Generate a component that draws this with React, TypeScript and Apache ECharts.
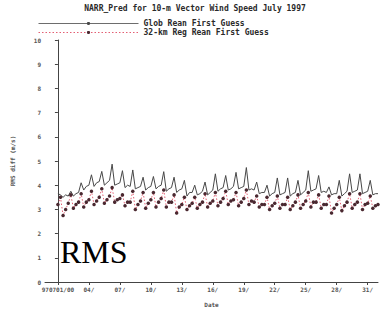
import React, { useEffect, useRef } from "react";
import * as echarts from "echarts";

const TITLE = "NARR_Pred for 10-m Vector Wind Speed July 1997";
const SERIES_NAMES = ["Glob Rean First Guess", "32-km Reg Rean First Guess"];
const X_TICK_DAYS = [0, 3, 6, 9, 12, 15, 18, 21, 24, 27, 30];
const X_TICK_LABELS = ["970701/00", "04/", "07/", "10/", "13/", "16/", "19/", "22/", "25/", "28/", "31/"];
const STEP_DAYS = 0.25; // 6-hourly

// Glob Rean First Guess, 6-hourly from 970701/00
const GLOB = [
  3.65, 3.6, 3.5, 3.6,
  3.55, 3.75, 3.55, 3.65,
  3.7, 4.1, 3.8, 3.95,
  4.0, 4.43, 3.95, 4.1,
  4.15, 4.57, 4.0, 4.1,
  4.2, 4.87, 4.0, 4.05,
  4.1, 4.6, 3.9, 4.0,
  3.95, 4.63, 3.85, 3.9,
  3.95, 4.33, 3.8, 3.9,
  3.95, 4.36, 3.85, 3.95,
  4.0, 4.56, 3.75, 3.85,
  3.9, 4.33, 3.7, 3.8,
  3.85, 4.2, 3.55, 3.7,
  3.7, 4.0, 3.6, 3.65,
  3.75, 4.13, 3.6, 3.7,
  3.8, 4.47, 3.75, 3.85,
  3.9, 4.4, 3.8, 3.85,
  3.95, 4.53, 3.85, 3.9,
  3.95, 4.73, 3.8, 3.85,
  3.8, 4.13, 3.65, 3.7,
  3.7, 4.0, 3.55, 3.65,
  3.7, 4.3, 3.6, 3.65,
  3.7, 4.3, 3.55, 3.65,
  3.7, 4.2, 3.6, 3.7,
  3.8, 4.6, 3.75, 3.8,
  3.85, 4.4, 3.7, 3.75,
  3.7, 3.93, 3.6, 3.65,
  3.65, 4.2, 3.55, 3.65,
  3.75, 4.47, 3.7, 3.75,
  3.8, 4.47, 3.65, 3.7,
  3.75, 4.2, 3.6, 3.65,
  3.65,
];

// 32-km Reg Rean First Guess
const REG = [
  3.2, 3.5, 2.75, 3.0,
  3.25, 3.6, 3.05, 3.2,
  3.3, 3.65, 3.1, 3.3,
  3.4, 3.75, 3.2, 3.35,
  3.5, 3.85, 3.25, 3.4,
  3.55, 3.9, 3.3, 3.4,
  3.45, 3.6, 3.15, 3.3,
  3.3, 3.75, 3.0, 3.2,
  3.35, 3.7, 3.05, 3.25,
  3.4, 3.7, 3.1, 3.3,
  3.45, 3.8, 3.1, 3.3,
  3.3, 3.6, 2.85, 3.1,
  3.2, 3.5, 3.0, 3.15,
  3.25, 3.5, 3.05, 3.2,
  3.3, 3.65, 3.1, 3.25,
  3.35, 3.7, 3.15, 3.3,
  3.45, 3.75, 3.2, 3.35,
  3.4, 3.7, 3.15, 3.3,
  3.45, 3.8, 3.2, 3.35,
  3.3, 3.55, 3.1, 3.2,
  3.2, 3.5, 3.0, 3.15,
  3.25, 3.55, 3.05, 3.2,
  3.2, 3.5, 3.0, 3.15,
  3.3, 3.6, 3.05, 3.2,
  3.35, 3.7, 3.1, 3.3,
  3.3, 3.6, 3.05, 3.2,
  3.2, 3.55, 2.85, 3.05,
  3.2, 3.5, 2.95, 3.15,
  3.3, 3.65, 3.05, 3.2,
  3.3, 3.65, 3.0, 3.2,
  3.25, 3.55, 3.05, 3.15,
  3.2,
];

const MONO = "'DejaVu Sans Mono', monospace";
const INK = "#2a2a2a";
const LABEL = "#555555";
const GLOB_COLOR = "#484848";
const REG_LINE = "#e35f73";
const REG_MARK = "#4a2830";
const DOTS = [1.5, 2];

export default function App() {
  const ref = useRef<HTMLDivElement>(null);
  useEffect(() => {
    document.body.style.margin = "0";
    const chart = echarts.init(ref.current!, null, { renderer: "svg" });
    const toPairs = (arr: number[]) => arr.map((v, i) => [i * STEP_DAYS, v]);
    chart.setOption({
      animation: false,
      backgroundColor: "#ffffff",
      title: {
        text: TITLE,
        left: 195,
        textAlign: "center",
        top: 4,
        padding: 0,
        textStyle: { fontFamily: MONO, fontSize: 8, fontWeight: "bold", color: INK },
      },
      legend: {
        orient: "vertical",
        left: 38,
        top: 19,
        padding: 0,
        itemGap: 0,
        itemWidth: 100,
        itemHeight: 4,
        data: [
          { name: SERIES_NAMES[0], lineStyle: { width: 0.8, type: "solid", color: GLOB_COLOR } },
          { name: SERIES_NAMES[1], lineStyle: { width: 1, type: DOTS, color: REG_LINE } },
        ],
        textStyle: { fontFamily: MONO, fontSize: 8, lineHeight: 9, fontWeight: "bold", color: INK },
      },
      grid: { left: 45, right: 3, top: 40, bottom: 33 },
      xAxis: {
        type: "value",
        min: -1.25,
        max: 31,
        name: "Date",
        nameLocation: "middle",
        nameGap: 19,
        nameTextStyle: { fontFamily: MONO, fontSize: 6, fontWeight: "bold", color: LABEL },
        axisLine: { lineStyle: { color: "#444", width: 1 } },
        axisTick: { show: true, length: 3, inside: false, customValues: X_TICK_DAYS, lineStyle: { color: "#444" } },
        axisLabel: {
          customValues: X_TICK_DAYS,
          formatter: (v: number) => X_TICK_LABELS[X_TICK_DAYS.indexOf(Math.round(v))] ?? "",
          fontFamily: MONO,
          fontSize: 6,
          fontWeight: "bold",
          color: LABEL,
          margin: 4,
        },
        splitLine: { show: false },
      },
      yAxis: {
        type: "value",
        min: 0,
        max: 10,
        interval: 1,
        name: "RMS diff (m/s)",
        nameLocation: "middle",
        nameRotate: 90,
        nameGap: 30,
        nameTextStyle: { fontFamily: MONO, fontSize: 6, fontWeight: "bold", color: LABEL },
        axisLine: { show: true, lineStyle: { color: "#444", width: 1 } },
        axisTick: { show: true, length: 3, lineStyle: { color: "#444" } },
        axisLabel: { fontFamily: MONO, fontSize: 6, fontWeight: "bold", color: LABEL, margin: 4 },
        splitLine: { show: false },
      },
      series: [
        {
          name: SERIES_NAMES[0],
          type: "line",
          data: toPairs(GLOB),
          symbol: "none",
          lineStyle: { color: GLOB_COLOR, width: 1 },
          itemStyle: { color: GLOB_COLOR },
        },
        {
          name: SERIES_NAMES[1],
          type: "line",
          data: toPairs(REG),
          symbol: "circle",
          symbolSize: 3.5,
          lineStyle: { color: REG_LINE, width: 1, type: DOTS },
          itemStyle: { color: REG_MARK, borderWidth: 0 },
        },
      ],
      graphic: [
        {
          type: "text",
          left: 60,
          top: 236,
          style: { text: "RMS", fontFamily: "'Liberation Serif', serif", fontSize: 32, fill: "#000" },
        },
      ],
    });
    return () => chart.dispose();
  }, []);
  return <div ref={ref} style={{ position: "absolute", left: 0, top: 0, width: 381, height: 315 }} />;
}
